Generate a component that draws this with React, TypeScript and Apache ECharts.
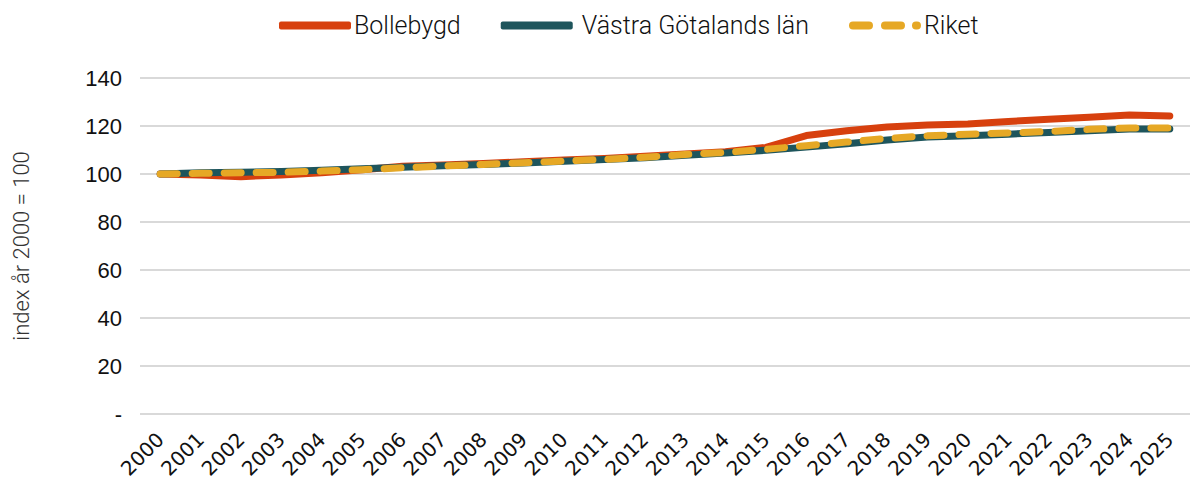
import React, { useEffect, useRef } from "react";
import * as echarts from "echarts";

const years = ["2000","2001","2002","2003","2004","2005","2006","2007","2008","2009","2010","2011","2012","2013","2014","2015","2016","2017","2018","2019","2020","2021","2022","2023","2024","2025"];
const bollebygd = [100, 99.6, 98.9, 99.6, 100.5, 101.8, 103.2, 103.8, 104.4, 105.1, 105.8, 106.5, 107.4, 108.3, 109.3, 111.1, 116.0, 118.0, 119.6, 120.4, 120.8, 121.9, 122.8, 123.6, 124.6, 124.2];
const vastra = [100, 100.5, 100.7, 101.0, 101.6, 102.2, 102.8, 103.4, 104.0, 104.6, 105.3, 106.0, 106.8, 107.8, 108.7, 109.9, 111.2, 112.6, 114.2, 115.4, 115.9, 116.6, 117.3, 118.0, 118.7, 118.8];
const riket = [100, 100.3, 100.5, 100.7, 101.2, 101.8, 102.6, 103.3, 104.0, 104.7, 105.4, 106.1, 107.0, 108.1, 109.0, 110.3, 111.8, 113.3, 114.8, 115.9, 116.6, 117.1, 117.7, 118.6, 119.2, 119.2];
const seriesNames = ["Bollebygd", " Västra Götalands län", "Riket"];
const colors = ["#D7400E", "#1E555C", "#E6A825"];

const dashIcon =
  "path://M4,0 H20 A4,4 0 0 1 20,8 H4 A4,4 0 0 1 4,0 Z M36,0 H52 A4,4 0 0 1 52,8 H36 A4,4 0 0 1 36,0 Z M67,0 H68 A4,4 0 0 1 68,8 H67 A4,4 0 0 1 67,0 Z";

export default function App() {
  const ref = useRef<HTMLDivElement>(null);
  useEffect(() => {
    document.body.style.margin = "0";
    const chart = echarts.init(ref.current!, null, { renderer: "svg" });
    chart.setOption({
      animation: false,
      color: colors,
      legend: {
        top: 8,
        left: 274,
        itemWidth: 72,
        itemHeight: 8,
        itemGap: 40,
        textStyle: { fontFamily: "Roboto", fontWeight: 300, fontSize: 25, color: "#111", padding: [0, 0, 0, -2] },
        data: [
          { name: seriesNames[0], icon: "roundRect" },
          { name: seriesNames[1], icon: "roundRect" },
          { name: seriesNames[2], icon: dashIcon },
        ],
      },
      grid: { left: 140, right: 2, top: 78, bottom: 70, containLabel: false },
      xAxis: {
        type: "category",
        data: years,
        boundaryGap: true,
        axisLine: { show: false },
        axisTick: { show: false },
        axisLabel: { rotate: 45, fontFamily: "DejaVu Sans", fontSize: 20, color: "#111", margin: 22, interval: 0 },
      },
      yAxis: {
        type: "value",
        min: 0,
        max: 140,
        interval: 20,
        name: "index år 2000 = 100",
        nameLocation: "middle",
        nameGap: 108,
        nameRotate: 90,
        nameTextStyle: { fontFamily: "Roboto", fontWeight: 300, fontSize: 22, color: "#333" },
        axisLine: { show: false },
        axisTick: { show: false },
        splitLine: { lineStyle: { color: "#d9d9d9", width: 2 } },
        axisLabel: {
          fontFamily: "Liberation Sans",
          fontSize: 22,
          color: "#111",
          margin: 18,
          formatter: (v: number) => (v === 0 ? "-" : String(v)),
        },
      },
      series: [
        {
          name: seriesNames[0], type: "line", data: bollebygd, symbol: "none",
          lineStyle: { width: 7, color: colors[0], cap: "round", join: "round" },
        },
        {
          name: seriesNames[1], type: "line", data: vastra, symbol: "none",
          lineStyle: { width: 7, color: colors[1], cap: "round", join: "round" },
        },
        {
          name: seriesNames[2], type: "line", data: riket, symbol: "none",
          lineStyle: { width: 7, color: colors[2], type: [17, 15], cap: "round", join: "round" },
        },
      ],
    });
    return () => chart.dispose();
  }, []);
  return <div ref={ref} style={{ width: 1192, height: 484 }} />;
}
